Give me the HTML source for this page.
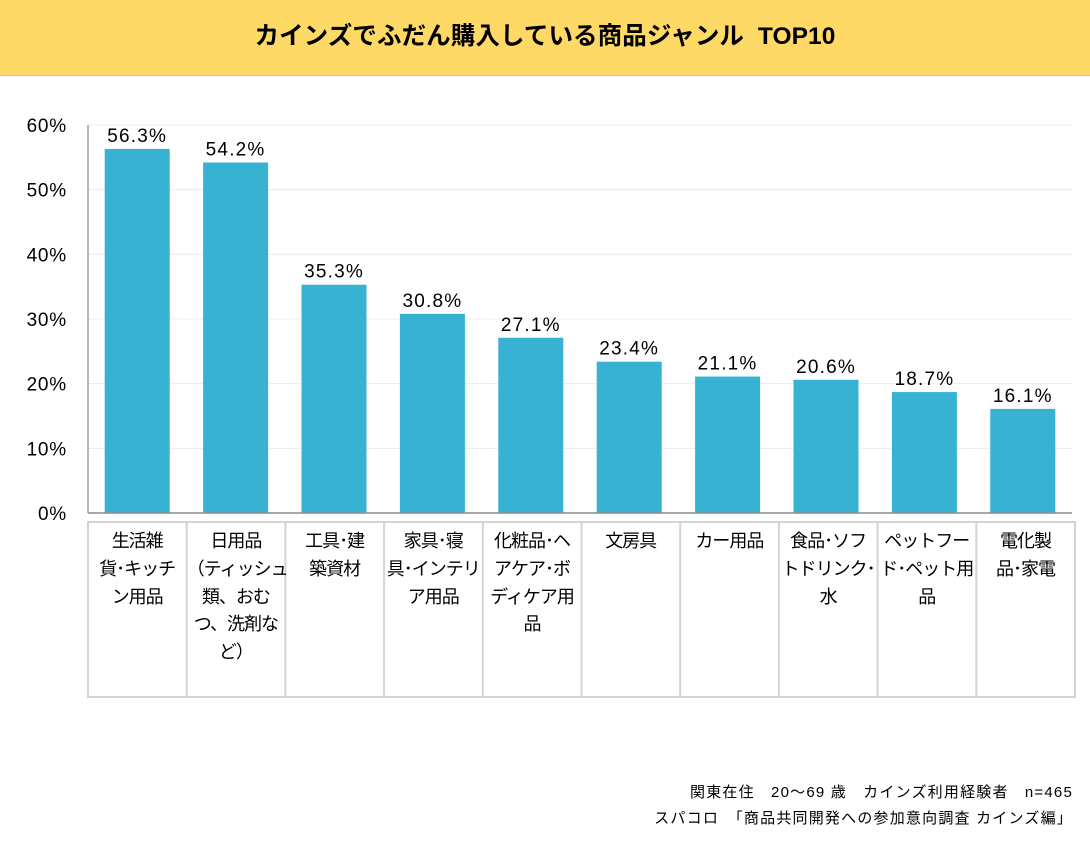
<!DOCTYPE html>
<html><head><meta charset="utf-8">
<style>
body{margin:0;width:1090px;height:841px;background:#fff;font-family:"Liberation Sans","Noto Sans CJK JP",sans-serif;position:relative;overflow:hidden}
#hdr{position:absolute;left:0;top:0;width:1090px;height:75px;background:#FFD966;border-bottom:1px solid #f0c040}
#hdr div{text-align:center;font-weight:bold;font-size:24.5px;line-height:73px;color:#000;letter-spacing:0.1px}
.foot{position:absolute;right:17px;font-size:15px;color:#000;letter-spacing:1.2px;font-family:"Liberation Sans","Noto Sans CJK JP",sans-serif}
</style></head><body>
<div id="hdr"><div>カインズでふだん購入している商品ジャンル&nbsp;&nbsp;TOP10</div></div>
<svg id="chart" width="1090" height="841" style="position:absolute;left:0;top:0"></svg>
<div class="foot" style="top:781px">関東在住　20～69 歳　カインズ利用経験者　n=465</div>
<div class="foot" style="top:807px">スパコロ　「商品共同開発への参加意向調査 カインズ編」</div>
<script>
const categories=["生活雑<br>貨･キッチ<br>ン用品","日用品<br>（ティッシュ<br>類、おむ<br>つ、洗剤な<br>ど）","工具･建<br>築資材","家具･寝<br>具･インテリ<br>ア用品","化粧品･ヘ<br>アケア･ボ<br>ディケア用<br>品","文房具","カー用品","食品･ソフ<br>トドリンク･<br>水","ペットフー<br>ド･ペット用<br>品","電化製<br>品･家電"];
const values=[56.3,54.2,35.3,30.8,27.1,23.4,21.1,20.6,18.7,16.1];
const ticks=[0,10,20,30,40,50,60];
const svg=document.getElementById('chart');const NS='http://www.w3.org/2000/svg';
const x0=88,x1=1072,y0=513,yTop=125,ymax=60;
const bw=(x1-x0)/values.length;
const y=v=>y0-(v/ymax)*(y0-yTop);
const xc=i=>x0+bw*(i+0.5);
function mk(t,a){const e=document.createElementNS(NS,t);for(const k in a)e.setAttribute(k,a[k]);svg.appendChild(e);return e;}
ticks.forEach(t=>{
 if(t>0){const g=mk('line',{x1:x0,x2:x1,y1:y(t),y2:y(t),stroke:'#ececec','stroke-width':1});
 
 }
 const l=mk('text',{x:67,y:y(t)+7,'text-anchor':'end','font-size':19,'letter-spacing':0.8,fill:'#000'});l.textContent=t+'%';
 
 
});
values.forEach((v,i)=>{
 const r=mk('rect',{x:xc(i)-32.5,y:y(v),width:65,height:y0-y(v),fill:'#38B2D2'});
 
 
 const t=mk('text',{x:xc(i),y:y(v)-7,'text-anchor':'middle','font-size':19,'letter-spacing':1.2,fill:'#000'});t.textContent=v.toFixed(1)+'%';
 
 
});
const ax=mk('line',{x1:x0,x2:x0,y1:yTop,y2:y0,stroke:'#a0a0a0','stroke-width':1.5});


const bx=mk('line',{x1:x0,x2:x1,y1:y0,y2:y0,stroke:'#8c8c8c','stroke-width':1.5});


const tb=mk('rect',{x:x0,y:522,width:x1+3-x0,height:175,fill:'none',stroke:'#d4d4d4','stroke-width':2});


for(let i=1;i<values.length;i++){const l=mk('line',{x1:x0+bw*i+0.3*i,x2:x0+bw*i+0.3*i,y1:522,y2:697,stroke:'#d4d4d4','stroke-width':2});
 
 }
categories.forEach((c,i)=>{
 const d=document.createElement('div');
 
 
 d.style.cssText='position:absolute;top:527px;width:'+(bw)+'px;left:'+(x0+bw*i+0.3*i)+'px;text-align:center;font-size:18px;line-height:27.8px;font-family:"Noto Sans CJK JP",sans-serif;letter-spacing:-1px;white-space:nowrap';
 d.innerHTML=c;document.body.appendChild(d);
});
</script>
</body></html>
